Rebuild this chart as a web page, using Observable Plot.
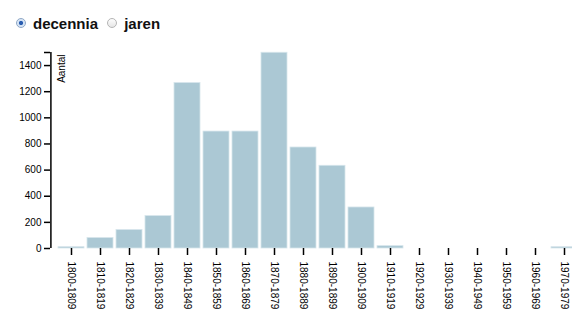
<!DOCTYPE html>
<html>
<head>
<meta charset="utf-8">
<script src="https://cdn.jsdelivr.net/npm/d3@7"></script>
<script src="https://cdn.jsdelivr.net/npm/@observablehq/plot@0.6"></script>
<style>
  html, body { margin: 0; padding: 0; background: #fff; overflow: hidden; width: 572px; height: 311px; }
  #controls { height: 40px; box-sizing: border-box; padding: 14px 0 0 15px; font-family: "Liberation Sans", Arial, sans-serif; font-weight: bold; font-size: 15px; color: #111; }
  #controls label { display: inline-flex; align-items: center; margin-right: 4px; }
  #controls input { appearance: none; -webkit-appearance: none; width: 10px; height: 10px; margin: 0 7px 0 1px; border: 1px solid #b5b5b5; border-radius: 50%; background: linear-gradient(#fdfdfd, #e6e6e6); box-sizing: border-box; }
  #controls input:checked { background: radial-gradient(circle, #2a5db0 0 1.8px, #cfe0f4 2.4px, #e9f0f8 100%); border-color: #8fa7c6; }
  #chart svg { display: block; overflow: visible; max-width: none !important; }
</style>
</head>
<body>
<div id="controls">
  <label><input type="radio" name="mode" checked>decennia</label>
  <label><input type="radio" name="mode">jaren</label>
</div>
<div id="chart"></div>
<script>
const categories = ["1800-1809","1810-1819","1820-1829","1830-1839","1840-1849","1850-1859","1860-1869","1870-1879","1880-1889","1890-1899","1900-1909","1910-1919","1920-1929","1930-1939","1940-1949","1950-1959","1960-1969","1970-1979"];
const counts = [10, 80, 141, 248, 1266, 895, 895, 1498, 773, 633, 314, 18, 0, 0, 0, 0, 0, 10];
const yTicks = [0, 200, 400, 600, 800, 1000, 1200, 1400];
const yLabel = "Aantal";

const data = categories.map((c, i) => ({decade: c, count: counts[i]}));

const chart = Plot.plot({
  width: 590,
  height: 271,
  marginLeft: 56,
  marginRight: 10,
  marginTop: 12,
  marginBottom: 63,
  style: {fontFamily: "'Liberation Sans', Arial, sans-serif", fontSize: "10px", color: "#000", background: "transparent", maxWidth: "none"},
  x: {domain: categories, paddingInner: 0.1, paddingOuter: 0.05, label: null},
  y: {domain: [0, 1500], label: null},
  marks: [
    Plot.barY(data, {x: "decade", y: "count", fill: "#abc8d4", stroke: "#d6e5eb", strokeWidth: 0.8}),
    Plot.axisY({ticks: [...yTicks, 1500], tickFormat: d => d === 1500 ? "" : String(d), tickSize: 6, tickPadding: 3, dx: -6, label: null, stroke: "#000", strokeWidth: 1.5, fill: "#000"}),
    Plot.ruleX(categories.slice(0, 1), {x: d => d, y1: 0, y2: 1500, dx: -20.6, stroke: "#000", strokeWidth: 1.5}),
    Plot.axisX({tickRotate: 90, tickSize: 7, tickPadding: 6, label: null, stroke: "#000", strokeWidth: 1.5, fill: "#000"}),
    Plot.text([yLabel], {frameAnchor: "top-left", rotate: -90, textAnchor: "end", lineAnchor: "top", dx: 1, dy: 2, fill: "#000", fontSize: 10})
  ]
});
document.getElementById("chart").appendChild(chart);
</script>
</body>
</html>
